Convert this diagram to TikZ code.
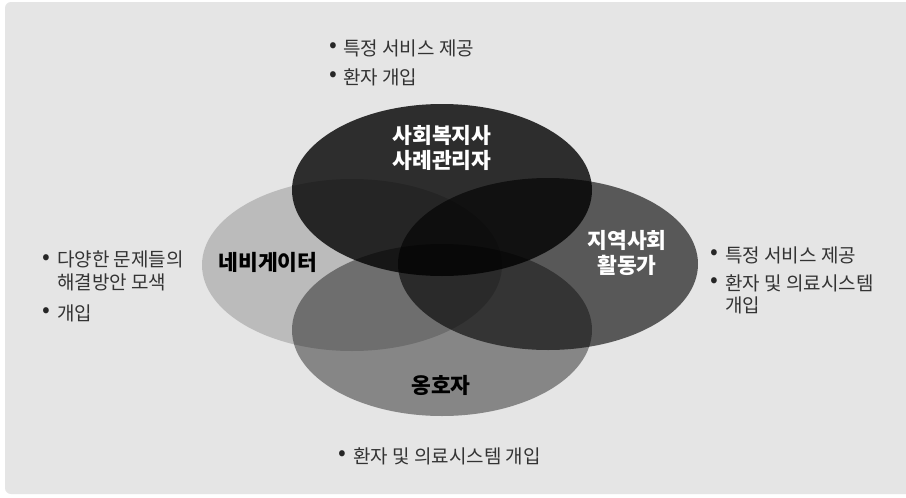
\documentclass[tikz,border=0pt]{standalone}
\usepackage{fontspec}
\newfontfamily\kr{Noto Sans CJK KR}
\usetikzlibrary{shapes.geometric}

\begin{document}
\begin{tikzpicture}[
  x=1pt, y=-1pt,
  role/.style={ellipse, minimum width=300pt, minimum height=172pt, inner sep=0pt, fill=black},
  tag/.style={font=\kr\bfseries\fontsize{21.5}{25}\selectfont, align=center, inner sep=0pt},
  note/.style={font=\kr\fontsize{19}{22.5}\selectfont, text=black!80, align=left, anchor=west, inner sep=0pt},
  dot/.style={font=\kr\fontsize{23}{22}\selectfont, text=black!85, inner sep=0pt},
]
\useasboundingbox (0,0) rectangle (906,498);
\fill[white] (0,0) rectangle (906,498);
\fill[black!10, rounded corners=6pt] (5,2) rectangle (912,494);
% the four roles
\node[role, fill opacity=0.18] (nav) at (352,265) {};
\node[role, fill opacity=0.41] (adv) at (442,330) {};
\node[role, fill opacity=0.61] (com) at (548,264) {};
\node[role, fill opacity=0.8] (soc) at (442,190) {};
\node[tag, text=white] (socl) at (442,147.5) {사회복지사\\사례관리자};
\node[tag] (navl) at (268,262) {네비게이터};
\node[tag, text=white] (coml) at (627,253) {지역사회\\활동가};
\node[tag] (advl) at (441,385) {옹호자};
% notes
\node[dot] (tb1) at (333,48) {•};
\node[note] (tt1) at (343,48) {특정 서비스 제공};
\node[dot] (tb2) at (333,77) {•};
\node[note] (tt2) at (343,77) {환자 개입};
\node[dot] (lb1) at (46,260) {•};
\node[note] (lt1) at (57,271) {다양한 문제들의\\해결방안 모색};
\node[dot] (lb2) at (46,313) {•};
\node[note] (lt2) at (57,313) {개입};
\node[dot] (rb1) at (714,255) {•};
\node[note] (rt1) at (725,255) {특정 서비스 제공};
\node[dot] (rb2) at (714,283) {•};
\node[note] (rt2) at (725,294.5) {환자 및 의료시스템\\개입};
\node[dot] (bb1) at (342,456) {•};
\node[note] (bt1) at (353,456) {환자 및 의료시스템 개입};
\end{tikzpicture}
\end{document}
